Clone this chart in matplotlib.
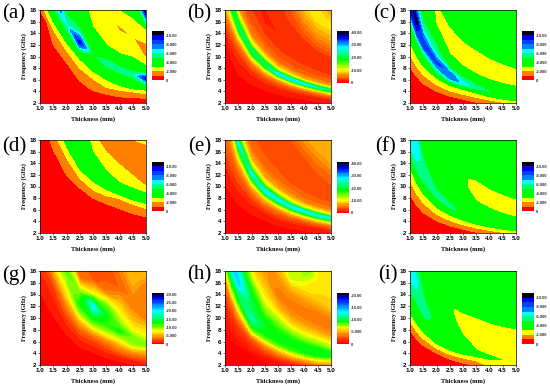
import numpy as np
import matplotlib
matplotlib.use("Agg")
import matplotlib.pyplot as plt
from matplotlib.colors import ListedColormap, BoundaryNorm, LinearSegmentedColormap

plt.rcParams["font.family"] = ["Liberation Serif", "DejaVu Serif"]

W, H = 550, 386
thickness = [1.0, 1.25, 1.5, 2.0, 2.5, 3.0, 3.5, 4.0, 4.5, 5.0]
x_ticks = [1.0, 1.5, 2.0, 2.5, 3.0, 3.5, 4.0, 4.5, 5.0]
y_ticks = [2, 4, 6, 8, 10, 12, 14, 16, 18]

# Sampling rows: thickness x frequency (mm GHz), following the matching curves
rows_std = [2, 8, 13, 16, 18, 20, 22, 24, 27, 31, 36, 42, 50, 60, 75, 90]
rows_b = [2, 8, 13, 16, 18, 19.5, 21, 22.5, 24, 27, 31, 36, 42, 50, 60, 75, 90]
rows_e = [2, 8, 13, 16, 18, 20, 21.5, 23, 24.5, 26, 29, 33, 38, 45, 60, 75, 90]

# Reflection-loss magnitude (dB), one row per thickness
rl_a = [
    [0, .1, .4, .7, 1, 2.3, 3.3, 4, 5, 6, 6, 5, 4, 4, 4, 4],
    [0, .1, .3, .6, .8, 1, 2.5, 3.5, 4.5, 6, 6, 5, 4, 4, 4, 4],
    [0, .1, .4, .7, 1, 1.5, 2, 3, 4.3, 8.5, 6, 5, 4, 4, 4, 4],
    [0, .1, .4, .7, 1, 1.5, 2, 2.7, 3.8, 6, 4.5, 4, 4, 4, 4, 4],
    [0, .2, .8, 1.2, 1.6, 2, 2.5, 3, 4.6, 9.5, 5.2, 3.8, 3.5, 3.5, 3.5, 3.5],
    [0, .3, 1.1, 1.6, 1.9, 2.3, 2.9, 3.5, 4.2, 4.8, 4.2, 3.2, 2.7, 2.6, 2.8, 3],
    [0, .4, 1.1, 1.9, 2.3, 2.7, 3.2, 4, 4.6, 5.5, 4.2, 3, 2.5, 2.2, 2.5, 3],
    [0, .4, 1.1, 1.8, 2.3, 3, 3.7, 4.2, 4.6, 5.5, 4.2, 3, 2.3, 1.9, 3.2, 4],
    [0, .4, 1, 1.6, 2.1, 3, 3.5, 4, 4.6, 5.5, 4.4, 3.2, 2.5, 2, 3, 4],
    [0, .3, .8, 1.3, 2, 2.7, 3.3, 4, 5.5, 9.5, 4.6, 3, 1.9, 1.9, 3.1, 11],
]
rl_b = [
    [0, .3, 1, 3, 6, 9, 14, 20, 20, 9, 5, 3, 3, 3, 3, 3, 3],
    [0, .4, 1.2, 3, 5, 7.5, 11, 17, 22, 10, 5, 3, 3, 3, 3, 3, 3],
    [0, .5, 1.5, 3, 5, 8, 13, 22, 17, 7, 4, 3, 2.5, 2.5, 3, 3, 3],
    [0, .5, 1.5, 3.5, 6, 10, 18, 22, 12, 6, 4, 3, 2.5, 2.5, 3, 4, 5],
    [0, .5, 1.5, 3.5, 7, 11, 21, 20, 11, 6, 4, 2.5, 1.5, 2.5, 3, 5, 6],
    [0, .5, 1.5, 4, 7, 13, 28, 15, 9, 5, 3.5, 2.5, 2, 2.5, 3, 5, 6],
    [0, .5, 1.5, 4, 7.5, 13, 29, 15, 9, 5, 3.5, 2.5, 2, 2.5, 3.5, 7, 7],
    [0, .5, 1.5, 4, 8, 14, 27, 15, 8, 5, 3.5, 2.5, 2, 2.5, 5, 9, 8],
    [0, .6, 1.7, 4.5, 8, 15, 25, 14, 8, 5, 3.5, 2.5, 2, 3, 6, 10, 8],
    [0, .7, 2, 5, 9, 16, 22, 13, 8, 5, 3.5, 2.5, 2, 3, 6, 9.5, 6.5],
]
rl_c = [
    [0, .9, 3.3, 5, 9, 9.5, 8, 6, 5, 4.5, 4, 4, 4, 4, 4, 4],
    [0, .9, 3.2, 5, 9, 10.5, 8, 6, 5, 4.5, 4, 4, 4, 4, 4, 4],
    [0, 1, 3.2, 5.5, 9, 7.5, 6, 5, 4.3, 4, 3.8, 3.7, 3.7, 3.7, 3.7, 3.7],
    [0, 1, 3.2, 6.5, 8.5, 6.5, 5.5, 5, 4.2, 2.95, 2.8, 3.2, 3.5, 3.5, 3.5, 3.5],
    [0, 1, 3.2, 8, 7.5, 5, 4.2, 3.5, 2.8, 2.7, 2.9, 3.2, 3.5, 3.5, 3.5, 3.5],
    [0, 1, 3, 6.5, 5.5, 4.5, 3.6, 3.1, 2.8, 2.5, 2.9, 3.2, 3.5, 3.5, 3.5, 3.5],
    [0, 1.1, 3, 5.5, 5, 4.3, 3.5, 3.05, 2.7, 2.5, 2.8, 3.2, 3.5, 3.5, 3.5, 3.5],
    [0, 1.1, 3.3, 5, 4.6, 4, 3.4, 3, 2.7, 2.5, 2.8, 3.2, 3.5, 3.5, 3.5, 3.5],
    [0, 1.3, 3.4, 5, 4.5, 4, 3.4, 3, 2.7, 2.5, 2.8, 3.15, 3.5, 3.5, 3.5, 3.5],
    [0, 1.5, 3.5, 4.8, 4.5, 4, 3.4, 3.05, 2.7, 2.5, 2.75, 3.15, 3.5, 3.5, 3.5, 3.5],
]
rl_d = [
    [0, .05, .1, .2, .3, .4, .6, .9, 1.5, 2.5, 3.5, 4, 3.5, 3, 3, 3],
    [0, .05, .1, .2, .3, .4, .6, .9, 1.5, 2.5, 3.5, 4, 3.5, 3, 3, 3],
    [0, .05, .1, .2, .3, .4, .6, .9, 1.5, 2.3, 3.5, 4, 3.5, 3, 3, 3],
    [0, .05, .1, .2, .3, .5, .7, 1, 1.5, 2.2, 3.6, 4, 3, 2.5, 2.5, 2.5],
    [0, .05, .1, .2, .3, .5, .7, .9, 1.6, 2.6, 4, 4.3, 3.8, 3, 2.5, 2.5],
    [0, .05, .1, .2, .3, .5, .7, 1, 1.7, 2.6, 3.8, 3.5, 2.8, 1.8, 1.7, 1.7],
    [0, .05, .1, .2, .3, .5, .7, .9, 1.4, 2.4, 3.7, 3.2, 2.5, 1.6, 1.5, 1.7],
    [0, .05, .1, .2, .3, .5, .7, .9, 1.3, 1.8, 3.6, 3.05, 2.4, 1.6, 1.5, 2],
    [0, .05, .1, .2, .35, .55, .75, 1, 1.4, 1.9, 3.4, 3.2, 2.2, 1.6, 1.85, 2.2],
    [0, .05, .1, .2, .35, .55, .75, 1, 1.5, 2, 3.1, 3.4, 2, 1.5, 1.7, 2.1],
]
rl_e = [
    [0, .5, 1.5, 3, 4, 5, 6, 8, 10, 16, 22, 10, 5, 4, 3.5, 3.5, 3.5],
    [0, .5, 1.5, 3, 4, 5, 6.5, 8, 10, 15, 22, 9, 5, 4, 3.5, 3.5, 3.5],
    [0, .5, 1.5, 3, 4, 6, 8, 12, 17, 28, 12, 6, 4, 3.5, 3.5, 3.5, 3.5],
    [0, .5, 1.5, 3, 5, 8, 12, 20, 28, 16, 8, 5, 4, 3.5, 3.5, 3.5, 4],
    [0, .5, 1.5, 3.5, 6, 9, 18, 28, 20, 12, 7, 5, 4, 3.5, 3.5, 4, 5],
    [0, .5, 2, 4, 6, 10, 18, 28, 20, 12, 7, 5, 4, 3.5, 3.5, 4.5, 6],
    [0, .5, 2, 4, 7, 11, 21, 28, 15, 11, 6.5, 5, 3.5, 3.2, 3.5, 6, 7],
    [0, .5, 2, 4, 7, 12, 23, 27, 15, 10, 6, 4.5, 3.5, 3, 4, 7, 7.5],
    [0, .7, 2, 4.5, 8, 13, 23, 27, 15, 10, 6, 4.5, 3.5, 3, 4.5, 7.5, 7.5],
    [0, 1, 2.5, 5, 8, 14, 24, 26, 15, 10, 6, 4.5, 3.5, 3, 5, 8, 7.5],
]
rl_f = [
    [0, .7, 2.8, 5.2, 7, 7, 6.5, 5.5, 5, 4.5, 4.2, 4, 4, 4, 4, 4],
    [0, .8, 2.8, 5.2, 6, 6.8, 6.5, 5.2, 4.7, 4.4, 4.2, 4, 4, 4, 4, 4],
    [0, .9, 2.9, 4.9, 5.6, 5.4, 5, 4.7, 4.5, 4.3, 4.1, 4, 3.9, 3.9, 3.9, 3.9],
    [0, .9, 3.1, 5, 5.2, 4.7, 4.4, 4.3, 4.2, 4, 3.8, 3.7, 3.6, 3.6, 3.6, 3.6],
    [0, .95, 3.1, 5.1, 5, 4.6, 4.3, 4.1, 3.9, 3.7, 3.5, 3.4, 3.4, 3.4, 3.4, 3.4],
    [0, 1, 3.2, 4.9, 4.8, 4.5, 4.2, 4, 3.7, 3.15, 3.1, 3.2, 3.4, 3.5, 3.5, 3.5],
    [0, 1.1, 3.3, 4.4, 4.3, 4.1, 3.8, 3.3, 2.9, 2.7, 2.8, 3.2, 3.4, 3.5, 3.5, 3.5],
    [0, 1.2, 3.4, 4.2, 4, 3.8, 3.5, 3.1, 2.8, 2.6, 2.85, 3.2, 3.4, 3.5, 3.5, 3.5],
    [0, 1.4, 3.4, 4, 3.8, 3.6, 3.3, 3, 2.7, 2.6, 2.85, 3.15, 3.4, 3.5, 3.5, 3.5],
    [0, 1.5, 3.5, 3.8, 3.7, 3.5, 3.2, 2.95, 2.7, 2.6, 2.8, 3.15, 3.4, 3.5, 3.5, 3.5],
]
rl_g = [
    [0, .2, .5, 1, 1.5, 2, 2.5, 3, 4, 6, 7, 6, 5, 4, 3, 3],
    [0, .2, .5, .8, 1.1, 1.5, 2, 3, 4.5, 7, 8, 6, 5, 4, 3, 3],
    [0, .2, .5, .8, 1, 1.4, 1.8, 2.5, 5, 9, 10, 7, 5, 4, 3, 3],
    [0, .2, .5, 1, 1.5, 2, 3, 4, 6, 8, 11, 7, 5, 4, 3, 3],
    [0, .2, .8, 1.5, 2.2, 3, 4.5, 6, 9.5, 13, 10, 3.5, 3, 3, 3, 3],
    [0, .2, .8, 1.5, 2, 3, 4.5, 6.5, 10, 14, 20, 8, 2.5, 2.5, 3, 3],
    [0, .3, 1, 1.8, 2.5, 3.5, 4.5, 6.5, 9, 12, 13, 11, 4, 2.5, 3, 3],
    [0, .3, 1.2, 2.5, 3.5, 4.5, 5.5, 7, 9, 13, 10, 8, 6, 3, 4, 5],
    [0, .4, 1.5, 3, 4, 5.5, 7, 9, 10.5, 10, 7.5, 6, 4.5, 4, 6, 6],
    [0, .5, 1.8, 3, 4, 5, 6, 8, 10.5, 9, 7.5, 6, 3.5, 4.5, 3.5, 6],
]
rl_h = [
    [0, .5, 1.5, 3.5, 6, 9, 11, 10, 9, 8, 7, 6, 5, 5, 5, 5],
    [0, .5, 2, 4, 7, 9, 12, 14, 12, 9, 7, 6, 5, 5, 5, 5],
    [0, .5, 2.2, 5, 7.5, 9.5, 11, 14, 13, 9, 7, 5.5, 5, 5, 5, 5],
    [0, .5, 3, 8, 10, 12, 10.5, 10, 9.5, 8.5, 6.2, 5, 4.5, 4.5, 4.5, 4.5],
    [0, .7, 4, 7.8, 9, 9.5, 9.5, 9.2, 8.3, 7, 6, 4.8, 4.5, 4.5, 4.5, 4.5],
    [0, 1, 5, 8.2, 9, 9.5, 9.2, 8.8, 8, 6.7, 5, 3.5, 4.5, 6, 6, 6],
    [0, 1.3, 6, 8.5, 9, 9.5, 9, 8.5, 7.5, 6, 4.5, 3.5, 4.5, 7.5, 7, 7],
    [0, 2, 6.5, 9, 9.5, 9.5, 9, 8.3, 7.3, 6, 4.5, 3.5, 4.2, 6.2, 8.5, 7],
    [0, 2.5, 7, 9, 9.5, 9.5, 9, 8.2, 7.2, 6, 4.5, 3.5, 4, 5.8, 6.5, 6.5],
    [0, 3, 6, 8.5, 9.5, 9.5, 8.5, 7.8, 7, 5.8, 4.3, 3.5, 4, 5.8, 6.2, 6],
]
rl_i = [
    [0, 1, 4.5, 5.5, 7, 6.5, 5.5, 5, 4.5, 4.2, 4, 4, 4, 4, 4, 4],
    [0, 1, 4, 5.1, 5.8, 6.2, 5.8, 5, 4.5, 4.2, 4, 4, 4, 4, 4, 4],
    [0, 1, 3.9, 5.2, 5.3, 5.1, 4.8, 4.5, 4.2, 4, 3.9, 3.8, 3.8, 3.8, 3.8, 3.8],
    [0, 1, 4, 4.6, 4.8, 4.4, 4.2, 4.1, 3.9, 3.7, 3.5, 3.5, 3.5, 3.5, 3.5, 3.5],
    [0, 1.1, 4, 4.2, 4.1, 4, 3.9, 3.5, 3.2, 3.05, 2.97, 3.2, 3.5, 3.5, 3.5, 3.5],
    [0, 1.2, 3.7, 3.6, 3.4, 3.15, 2.9, 2.7, 2.6, 2.85, 3.3, 3.5, 3.5, 3.5, 3.5, 3.5],
    [0, 1.4, 3.4, 2.98, 2.8, 2.7, 2.6, 2.5, 2.5, 2.7, 3.05, 3.3, 3.5, 3.5, 3.5, 3.5],
    [0, 2.3, 3.2, 2.8, 2.7, 2.6, 2.5, 2.5, 2.5, 2.6, 2.95, 3.3, 3.5, 3.5, 3.5, 3.5],
    [0, 2.6, 2.98, 2.7, 2.6, 2.5, 2.5, 2.5, 2.5, 2.6, 2.85, 3.2, 3.5, 3.5, 3.5, 3.5],
    [0, 2.7, 2.7, 2.6, 2.5, 2.5, 2.5, 2.5, 2.5, 2.6, 2.8, 3.05, 3.3, 3.5, 3.5, 3.5],
]

# Colour scales
band_levels = [0, 1, 2, 3, 4, 5, 6, 7, 8, 9, 10, 11]
band_colors = ["#ff0000", "#ff8000", "#ffff00", "#00ff00", "#00ff00", "#00ff80",
               "#00ffff", "#0080ff", "#0040ff", "#0000ff", "#000000"]
band_ticks = [0, 2, 4, 6, 8, 10]
band_labels = ["0", "-2.000", "-4.000", "-6.000", "-8.000", "-10.00"]

stops_40 = [(0, "#ff0000"), (4, "#ff6400"), (7, "#ffaa00"), (10, "#ffff00"), (14, "#80ff00"),
            (18, "#00ff00"), (23, "#00ff80"), (28, "#00ffff"), (32, "#0080ff"), (36, "#0000ff"), (41, "#000000")]
stops_30 = [(0, "#ff0000"), (2.5, "#ff5a00"), (5, "#ffaa00"), (7.5, "#ffff00"), (10, "#80ff00"),
            (13, "#00ff00"), (16, "#00ff80"), (20, "#00ffff"), (24, "#0080ff"), (28, "#0000ff"), (31, "#000000")]
stops_20 = [(0, "#ff0000"), (2, "#ff3c00"), (4, "#ff8c00"), (5.5, "#ffc800"), (6.5, "#ffff00"), (8, "#78ff00"),
            (9, "#00ff00"), (11, "#00ff78"), (13, "#00ffff"), (16, "#0078ff"), (19, "#0000ff"), (21, "#000000")]


def smooth_scale(stops, step):
    top = stops[-1][0]
    cmap = LinearSegmentedColormap.from_list("s", [(v / top, c) for v, c in stops])
    levels = np.arange(0, top + step / 2, step)
    return levels, cmap


ticks_40 = ([0, 10, 20, 30, 40], ["0", "-10.00", "-20.00", "-30.00", "-40.00"])
ticks_30 = ([0, 5, 10, 15, 20, 25, 30], ["0", "-5.000", "-10.00", "-15.00", "-20.00", "-25.00", "-30.00"])
ticks_20 = ([0, 5, 10, 15, 20], ["0", "-5.000", "-10.00", "-15.00", "-20.00"])
ticks_band = (band_ticks, band_labels)

panels = [
    ("(a)", rl_a, rows_std, None, (40, 10, 146, 103), (152, 31, 164, 80), (2, 13.5), ticks_band),
    ("(b)", rl_b, rows_b, (stops_40, 1.0), (225, 10, 331, 103), (337, 31, 349, 83), (187, 13.5), ticks_40),
    ("(c)", rl_c, rows_std, None, (410, 10, 516, 103), (522, 31, 534, 80), (373, 13.5), ticks_band),
    ("(d)", rl_d, rows_std, None, (40, 140, 146, 233), (152, 162, 164, 211), (2, 147), ticks_band),
    ("(e)", rl_e, rows_e, (stops_40, 1.0), (225, 140, 331, 233), (337, 162, 349, 213), (188, 147), ticks_40),
    ("(f)", rl_f, rows_std, None, (410, 140, 516, 233), (522, 162, 534, 211), (375, 147), ticks_band),
    ("(g)", rl_g, rows_std, (stops_30, 0.75), (40, 271, 146, 365), (152, 293, 164, 344), (2, 275), ticks_30),
    ("(h)", rl_h, rows_std, (stops_20, 0.5), (225, 271, 331, 365), (337, 293, 349, 344), (187, 275), ticks_20),
    ("(i)", rl_i, rows_std, None, (410, 271, 516, 365), (522, 293, 534, 344), (378, 275), ticks_band),
]


def rect(box):
    x0, y0, x1, y1 = box
    return [x0 / W, 1 - y1 / H, (x1 - x0) / W, (y1 - y0) / H]


fig = plt.figure(figsize=(W / 100, H / 100), dpi=100)
tick_font = {"family": "Liberation Sans", "weight": "bold", "size": 4.5}
thick = np.array(thickness)

for name, table, rows, scale, box, cbox, lpos, (cticks, clabels) in panels:
    ax = fig.add_axes(rect(box))
    X = np.repeat(thick[:, None], len(rows), axis=1)
    Y = np.array(rows)[None, :] / X
    Z = np.array(table, dtype=float)
    if scale is None:
        levels, cmap = band_levels, ListedColormap(band_colors)
    else:
        levels, cmap = smooth_scale(*scale)
    norm = BoundaryNorm(levels, cmap.N if scale is None else 256)
    ax.contourf(X, Y, Z, levels=levels, cmap=cmap, norm=norm)
    ax.set_xlim(1, 5)
    ax.set_ylim(2, 18)
    ax.set_xticks(x_ticks, [f"{v:.1f}" for v in x_ticks], **tick_font)
    ax.set_yticks(y_ticks, [str(v) for v in y_ticks], **tick_font)
    ax.tick_params(length=1.5, width=0.4, pad=1)
    for s in ax.spines.values():
        s.set_linewidth(0.5)
    ax.set_xlabel("Thickness (mm)", fontsize=4.6, fontweight="bold", labelpad=3.5)
    ax.set_ylabel("Frequency (GHz)", fontsize=4.4, fontweight="bold", labelpad=1.5)
    fig.text(lpos[0] / W, 1 - lpos[1] / H, name, fontsize=15, va="center", ha="left",
             family="Liberation Serif")

    cax = fig.add_axes(rect(cbox))
    ends = np.array([[levels[0], levels[0]], [levels[-1], levels[-1]]], dtype=float)
    cax.contourf([0, 1], [levels[0], levels[-1]], ends, levels=levels, cmap=cmap, norm=norm)
    cax.set_xticks([])
    cax.yaxis.tick_right()
    cax.set_yticks(cticks, clabels, family="Liberation Sans", fontweight="bold", size=3.0, color="#333333")
    cax.tick_params(length=0, pad=1.5)
    for s in cax.spines.values():
        s.set_visible(False)

fig.savefig("out.png", dpi=100)
